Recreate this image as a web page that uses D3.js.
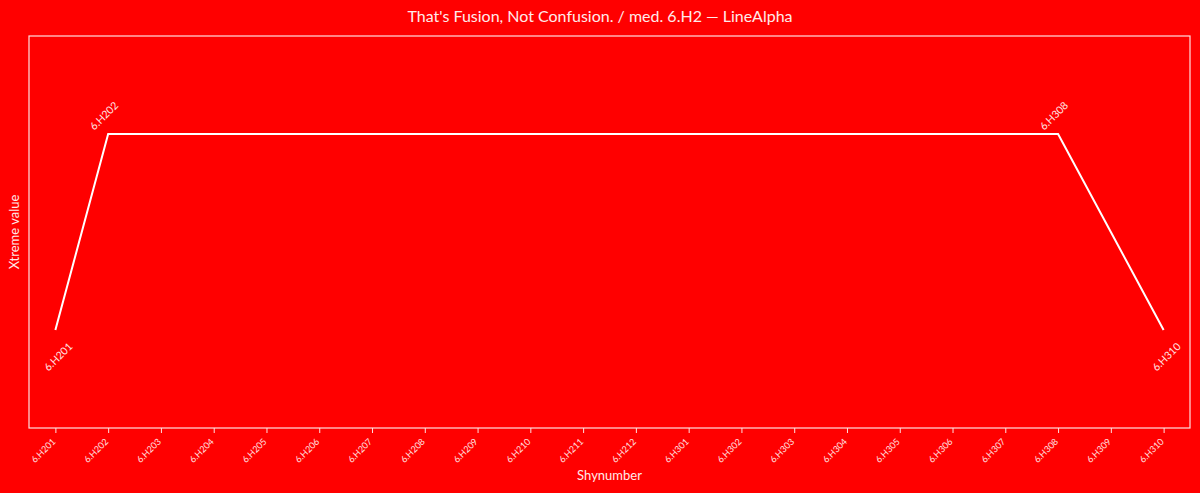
<!DOCTYPE html>
<html><head><meta charset="utf-8">
<script src="https://cdn.jsdelivr.net/npm/d3@7"></script>
<style>body{margin:0;background:#ff0000;} text{font-family:"Lato","Open Sans",sans-serif;}</style>
</head><body><svg id="c" width="1200" height="493"></svg>
<script>
const categories = ["6.H201","6.H202","6.H203","6.H204","6.H205","6.H206","6.H207","6.H208","6.H209","6.H210","6.H211","6.H212","6.H301","6.H302","6.H303","6.H304","6.H305","6.H306","6.H307","6.H308","6.H309","6.H310"];
const values = [1,2,2,2,2,2,2,2,2,2,2,2,2,2,2,2,2,2,2,2,1.5,1];
const labeled = ["6.H201","6.H202","6.H308","6.H310"];
const yDomain = [0.5, 2.5];
const title = "That's Fusion, Not Confusion. / med. 6.H2 \u2014 LineAlpha";

const svg = d3.select("#c");
const W = 1200, H = 493;
const m = {l:29, r:10, t:36, b:65};
const x = d3.scalePoint().domain(categories).range([m.l, W - m.r]).padding(0.5);
const y = d3.scaleLinear().domain(yDomain).range([H - m.b, m.t]);
const fg = "#ffe0e0";

svg.append("rect").attr("width",W).attr("height",H).attr("fill","#ff0000");
svg.append("rect").attr("x",m.l).attr("y",m.t).attr("width",W-m.l-m.r).attr("height",H-m.t-m.b)
  .attr("fill","none").attr("stroke",fg).attr("stroke-width",1.2);

const xa = svg.append("g").attr("transform",`translate(0,${H-m.b})`)
  .call(d3.axisBottom(x).tickSize(5).tickSizeOuter(0));
xa.select(".domain").remove();
xa.selectAll("line").attr("stroke",fg);
xa.selectAll("text").attr("fill",fg).attr("font-size",9)
  .attr("text-anchor","end").attr("x",0).attr("y",0).attr("dy","0.35em")
  .attr("transform","translate(-2,12) rotate(-45)");

svg.append("text").attr("x",W/2).attr("y",22).attr("text-anchor","middle")
  .attr("fill","#ffeaea").attr("font-size",16).text(title);
svg.append("text").attr("x",(m.l+W-m.r)/2).attr("y",480).attr("text-anchor","middle")
  .attr("fill","#ffeaea").attr("font-size",13).text("Shynumber");
svg.append("text").attr("transform",`translate(19,${(m.t+H-m.b)/2}) rotate(-90)`).attr("text-anchor","middle")
  .attr("fill","#ffeaea").attr("font-size",13).text("Xtreme value");

const data = categories.map((c,i)=>({c, v: values[i]}));
svg.append("path").datum(data)
  .attr("d", d3.line().x(d=>x(d.c)).y(d=>y(d.v)))
  .attr("fill","none").attr("stroke","#ffffff").attr("stroke-width",2);

data.filter(d=>labeled.includes(d.c)).forEach(d=>{
  const px = x(d.c), py = y(d.v);
  const above = d.v === 2;
  svg.append("text")
    .attr("transform", above ? `translate(${px-1.5},${py-15.5}) rotate(-45)` : `translate(${px+5.5},${py+29.5}) rotate(-45)`)
    .attr("text-anchor", "middle")
    .attr("fill","#ffe6e6").attr("font-size",10.5).text(d.c);
});
</script></body></html>
